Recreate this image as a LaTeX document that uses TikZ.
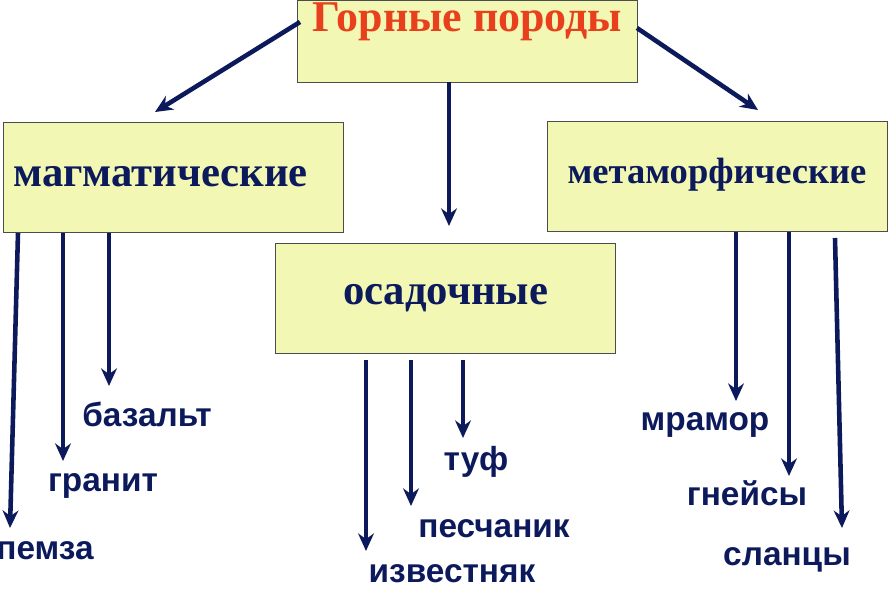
\documentclass[tikz,border=0pt]{standalone}
\usepackage{fontspec}
\setmainfont{Liberation Sans}
\newfontfamily\serifrock{Liberation Serif}
\usetikzlibrary{arrows.meta}
\definecolor{boxfill}{HTML}{F2F8B4}
\definecolor{navy}{HTML}{0C1A5C}
\definecolor{titlered}{HTML}{E8401C}
\tikzset{
  rockbox/.style={draw=black!70,fill=boxfill,minimum height=2.2cm,minimum width=6.8cm,inner sep=0pt,font=\serifrock\bfseries\fontsize{24.3}{28}\selectfont,text=navy},
  rocklabel/.style={font=\bfseries\fontsize{19}{22}\selectfont,text=navy},
  rockarrow/.style={draw=navy,line width=2.6pt,-{Stealth[length=10pt,width=9pt]}}
}
\begin{document}
\begin{tikzpicture}[x=0.02cm,y=-0.02cm]
    \useasboundingbox (0,0) rectangle (893,598);
    % boxes
    \node[rockbox,minimum height=1.64cm,text=titlered,font=\serifrock\bfseries\fontsize{25}{29}\selectfont,anchor=north,text depth=0.95cm] (top) at (467.5,0) {Горные породы};
    \node[rockbox,text width=6.4cm] (magm) at (173.5,177) {магматические};
    \node[rockbox,font=\serifrock\bfseries\fontsize{20.8}{24}\selectfont] (meta) at (717,176.5) {\raisebox{0.22cm}{метаморфические}};
    \node[rockbox] (osad) at (445.5,298) {осадочные};
    % labels
    \node[rocklabel] (bazalt) at (147,414) {базальт};
    \node[rocklabel] (granit) at (103,486) {гранит};
    \node[rocklabel] (pemza) at (45,551) {пемза};
    \node[rocklabel] (tuf) at (476,462) {туф};
    \node[rocklabel] (pesch) at (494,529) {песчаник};
    \node[rocklabel] (izv) at (452,574) {известняк};
    \node[rocklabel] (mramor) at (705,425) {мрамор};
    \node[rocklabel] (gneis) at (747,493) {гнейсы};
    \node[rocklabel] (slanc) at (787,560) {сланцы};
    % connector ends
    \coordinate (t1) at (300,22);   \coordinate (t1e) at (155,112);
    \coordinate (t2) at (637,28);   \coordinate (t2e) at (758,110);
    \coordinate (t3) at (449,82);   \coordinate (t3e) at (449,226);
    \coordinate (m1) at (18,233);   \coordinate (m1e) at (10,528);
    \coordinate (m2) at (63,233);   \coordinate (m2e) at (63,461);
    \coordinate (m3) at (109,233);  \coordinate (m3e) at (109,386);
    \coordinate (o1) at (366,360);  \coordinate (o1e) at (366,551);
    \coordinate (o2) at (411,360);  \coordinate (o2e) at (411,506);
    \coordinate (o3) at (463,360);  \coordinate (o3e) at (463,438);
    \coordinate (r1) at (736,232);  \coordinate (r1e) at (736,401);
    \coordinate (r2) at (789,232);  \coordinate (r2e) at (789,476);
    \coordinate (r3) at (835,238);  \coordinate (r3e) at (842,528);
    % arrows
    \foreach \a in {t1,t2,t3,m1,m2,m3,o1,o2,o3,r1,r2,r3}
      \draw[rockarrow] (\a) -- (\a e);
\end{tikzpicture}
\end{document}
